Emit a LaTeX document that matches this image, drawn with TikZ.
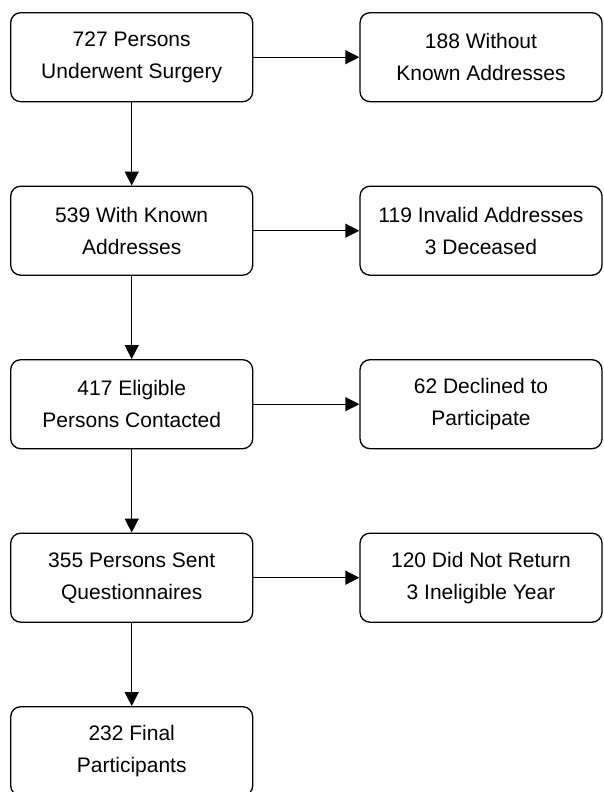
\documentclass[tikz,border=0pt]{standalone}
\usepackage{fontspec}
\setmainfont{Liberation Sans}
\usetikzlibrary{positioning}
\usetikzlibrary{arrows.meta}

\begin{document}
\begin{tikzpicture}[
            > = {Triangle[length=14pt, width=14pt]}, % arrow head style
            node distance = 173.5pt, % distance between rows
            line width = 1.3pt % line style
        ]

        \tikzstyle{stage}=[
            draw,
            rounded corners = 10pt,
            minimum width = 242pt,
            minimum height = 89pt,
            inner sep = 0pt,
            align = center,
            font = \fontsize{21}{32}\selectfont
        ]

        \useasboundingbox (0,0) rectangle (603pt,792pt);

% main flow
        \node[stage] (S) at (131.7pt,734.8pt) {727 Persons\\Underwent Surgery};
        \node[stage] (K) [below of = S] {539 With Known\\Addresses};
        \node[stage] (E) [below of = K] {417 Eligible\\Persons Contacted};
        \node[stage] (Q) [below of = E] {355 Persons Sent\\Questionnaires};
        \node[stage] (F) [below of = Q] {232 Final\\Participants};

        \path[->] (S) edge (K);
        \path[->] (K) edge (E);
        \path[->] (E) edge (Q);
        \path[->] (Q) edge (F);

        % exclusions
        \node[stage] (NA) [right of = S, node distance = 349.3pt] {188 Without\\Known Addresses};
        \node[stage] (IA) [right of = K, node distance = 349.3pt] {119 Invalid Addresses\\3 Deceased};
        \node[stage] (DP) [right of = E, node distance = 349.3pt] {62 Declined to\\Participate};
        \node[stage] (NR) [right of = Q, node distance = 349.3pt] {120 Did Not Return\\3 Ineligible Year};

        \path[->] (S) edge (NA);
        \path[->] (K) edge (IA);
        \path[->] (E) edge (DP);
        \path[->] (Q) edge (NR);

  \end{tikzpicture}
\end{document}
